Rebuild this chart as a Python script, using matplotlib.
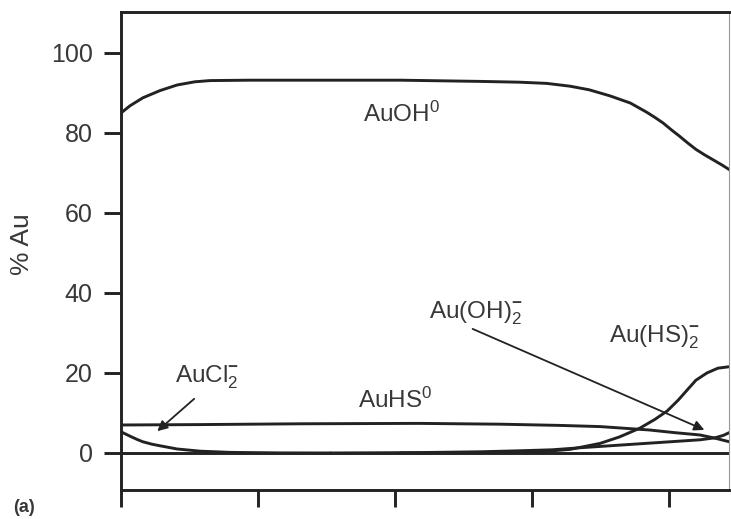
import numpy as np
import matplotlib
matplotlib.use('Agg')
import matplotlib.pyplot as plt

plt.rcParams['font.family'] = ['Liberation Sans', 'DejaVu Sans']
plt.rcParams['mathtext.fontset'] = 'custom'
plt.rcParams['mathtext.rm'] = 'Liberation Sans'
plt.rcParams['mathtext.it'] = 'Liberation Sans'
plt.rcParams['mathtext.bf'] = 'Liberation Sans:bold'

# species curves (x in tick units, y in % Au)
x_auoh = [0, 0.066, 0.16, 0.285, 0.41, 0.54, 0.65, 0.94, 1.38, 2.04, 2.62, 2.91,
          3.11, 3.28, 3.42, 3.57, 3.72, 3.84, 3.90, 3.96, 4.02, 4.08, 4.14, 4.20,
          4.26, 4.32, 4.39, 4.45]
y_auoh = [85.0, 86.8, 88.8, 90.6, 92.0, 92.8, 93.1, 93.2, 93.2, 93.2, 92.9, 92.7,
          92.4, 91.7, 90.8, 89.3, 87.5, 85.2, 83.9, 82.5, 80.8, 79.2, 77.5, 75.9,
          74.6, 73.4, 72.0, 70.7]

x_auhs = [0, 0.58, 1.31, 2.18, 2.77, 3.20, 3.50, 3.86, 4.04, 4.23, 4.34, 4.45]
y_auhs = [7.0, 7.1, 7.3, 7.4, 7.2, 6.9, 6.6, 5.75, 5.1, 4.5, 3.7, 2.75]

x_aucl2 = [0, 0.036, 0.066, 0.117, 0.16, 0.226, 0.285, 0.41, 0.58, 0.80, 1.16, 1.53]
y_aucl2 = [5.3, 4.7, 4.2, 3.4, 2.8, 2.2, 1.8, 1.0, 0.45, 0.15, 0.02, 0.0]

x_auoh2 = [1.53, 2.18, 2.62, 2.91, 3.15, 3.35, 3.57, 3.79, 4.01, 4.23, 4.34, 4.40, 4.45]
y_auoh2 = [0.0, 0.1, 0.3, 0.55, 0.8, 1.3, 1.8, 2.3, 2.8, 3.3, 3.8, 4.4, 5.2]

x_auhs2 = [2.04, 2.62, 3.06, 3.28, 3.50, 3.64, 3.79, 3.90, 3.99, 4.07, 4.14, 4.20,
           4.28, 4.36, 4.45]
y_auhs2 = [0.0, 0.1, 0.3, 0.9, 2.4, 4.0, 6.2, 8.4, 10.5, 13.2, 15.9, 18.2,
           20.0, 21.2, 21.6]

yticks = [0, 20, 40, 60, 80, 100]
xticks = [0, 1, 2, 3, 4]

ink = '#222222'
txt = '#383838'

fig = plt.figure(figsize=(7.31, 5.19), dpi=100)
ax = fig.add_axes([0.1655, 0.0559, 0.8315, 0.921])

ax.axhline(0, color=ink, lw=2.1)
for xs, ys in [(x_auoh, y_auoh), (x_auhs, y_auhs), (x_aucl2, y_aucl2),
               (x_auoh2, y_auoh2), (x_auhs2, y_auhs2)]:
    ax.plot(xs, ys, color=ink, lw=2.1, solid_capstyle='round', solid_joinstyle='round')

ax.set_xlim(0, 4.44)
ax.set_ylim(-9.25, 110.25)
ax.set_yticks(yticks)
ax.set_xticks(xticks)
ax.set_xticklabels([])
ax.tick_params(axis='both', direction='out', length=12.5, width=2.1, color=ink,
               labelsize=18, labelcolor=txt, pad=8)
for s in ['left', 'top', 'bottom']:
    ax.spines[s].set_linewidth(2.1)
    ax.spines[s].set_color(ink)
ax.spines['right'].set_linewidth(0.8)
ax.spines['right'].set_color('#999999')

ax.set_ylabel('% Au', fontsize=19, color=txt)
ax.yaxis.set_label_coords(-0.143, 0.515)

fs = 17.5
ax.text(2.05, 82.8, r'AuOH$^{0}$', fontsize=fs, color=txt, ha='center', va='baseline')
ax.text(2.0, 11.3, r'AuHS$^{0}$', fontsize=fs, color=txt, ha='center', va='baseline')
ax.text(0.63, 17.5, r'AuCl$_{2}^{\mathbf{-}}$', fontsize=fs, color=txt, ha='center', va='baseline')
ax.text(2.59, 33.7, r'Au(OH)$_{2}^{\mathbf{-}}$', fontsize=fs, color=txt, ha='center', va='baseline')
ax.text(3.90, 27.5, r'Au(HS)$_{2}^{\mathbf{-}}$', fontsize=fs, color=txt, ha='center', va='baseline')

arrow = dict(arrowstyle='-|>', color=ink, lw=1.3, mutation_scale=15)
ax.annotate('', xy=(0.25, 5.0), xytext=(0.55, 14.0), arrowprops=arrow)
ax.annotate('', xy=(4.28, 5.5), xytext=(2.55, 31.3), arrowprops=arrow)

fig.text(13 / 731, 1 - 508 / 519, '(a)', fontsize=13, color=txt, fontweight='bold',
         ha='left', va='center')

fig.savefig('out.png', dpi=100)
